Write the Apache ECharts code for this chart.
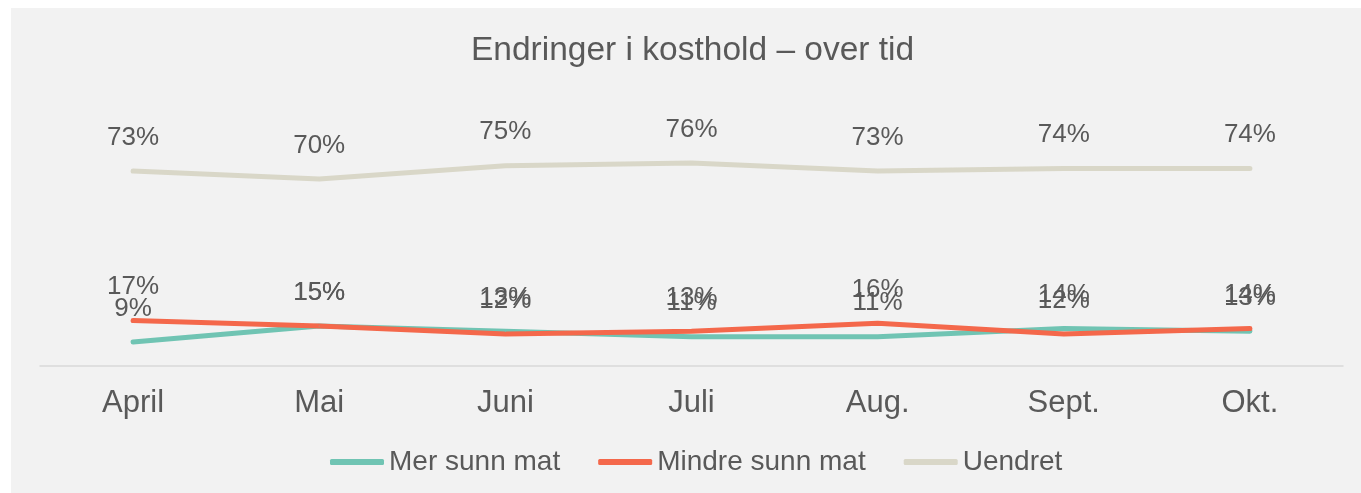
<!DOCTYPE html>
<html>
<head>
<meta charset="utf-8">
<script src="https://cdn.jsdelivr.net/npm/echarts@6/dist/echarts.min.js"></script>
<style>
  body { margin: 0; background: #ffffff; }
  #chart {
    position: absolute;
    left: 11px;
    top: 8px;
    width: 1350px;
    height: 485px;
    background: #f2f2f2;
  }
</style>
</head>
<body>
<div id="chart"></div>
<script>
// months on the x axis
var months = ["April", "Mai", "Juni", "Juli", "Aug.", "Sept.", "Okt."];
// percentages per series
var merSunn = [9, 15, 13, 11, 11, 14, 13];
var mindreSunn = [17, 15, 12, 13, 16, 12, 14];
var uendret = [73, 70, 75, 76, 73, 74, 74];

var textColor = "#595959";
var font = "Liberation Sans, Arial, sans-serif";

function lineSeries(name, data, color) {
  return {
    name: name,
    type: "line",
    data: data,
    // tiny symbol so the labels still get drawn
    symbol: "circle",
    symbolSize: 1,
    showSymbol: true,
    lineStyle: { width: 5, color: color, cap: "round", join: "round" },
    itemStyle: { color: color },
    label: {
      show: true,
      position: "top",
      distance: 20,
      formatter: "{c}%",
      color: textColor,
      fontSize: 26,
      fontFamily: font
    },
    emphasis: { disabled: true }
  };
}

var chart = echarts.init(document.getElementById("chart"));
chart.setOption({
  animation: false,
  title: {
    text: "Endringer i kosthold – over tid",
    left: 455,
    top: 21,
    textStyle: {
      color: textColor,
      fontSize: 33.5,
      fontWeight: "normal",
      fontFamily: font
    }
  },
  legend: {
    bottom: 12,
    left: 314,
    itemWidth: 54,
    itemHeight: 6,
    itemGap: 38,
    icon: "roundRect",
    textStyle: { color: textColor, fontSize: 28, fontFamily: font },
    data: ["Mer sunn mat", "Mindre sunn mat", "Uendret"]
  },
  grid: {
    left: 29,
    width: 1303,
    top: 91,
    height: 267
  },
  xAxis: {
    type: "category",
    data: months,
    boundaryGap: true,
    axisLine: { lineStyle: { color: "#d9d9d9", width: 1.5 } },
    axisTick: { show: false },
    axisLabel: {
      color: textColor,
      fontSize: 31,
      fontFamily: font,
      margin: 22
    }
  },
  yAxis: {
    type: "value",
    min: 0,
    max: 100,
    show: false,
    splitLine: { show: false }
  },
  series: [
    lineSeries("Mer sunn mat", merSunn, "#70c4b3"),
    lineSeries("Mindre sunn mat", mindreSunn, "#f4684b"),
    lineSeries("Uendret", uendret, "#d9d7c8")
  ]
});
</script>
</body>
</html>
